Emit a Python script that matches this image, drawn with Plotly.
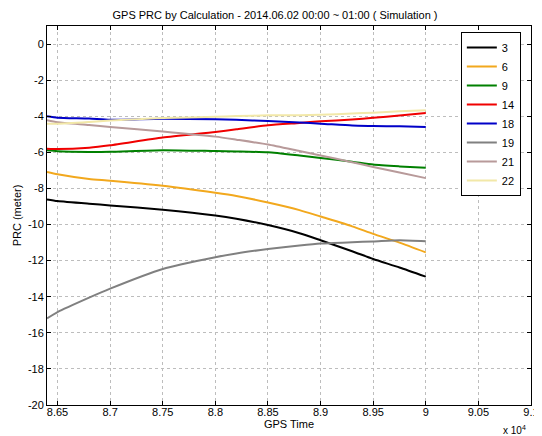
import plotly.graph_objects as go

gps_time = [86400, 86500, 86800, 87000, 87500, 88000, 88200, 88500,
            88800, 89000, 89300, 89500, 89750, 90000]

prn_labels = ["3", "6", "9", "14", "18", "19", "21", "22"]

prc_3 = [-8.61, -8.70, -8.85, -8.94, -9.18, -9.50, -9.68, -10.03,
         -10.48, -10.87, -11.48, -11.91, -12.38, -12.89]
prc_6 = [-7.09, -7.22, -7.48, -7.57, -7.85, -8.24, -8.42, -8.78,
         -9.20, -9.56, -10.10, -10.52, -11.00, -11.54]
prc_9 = [-5.89, -5.94, -5.98, -5.97, -5.88, -5.93, -5.95, -6.00,
         -6.18, -6.31, -6.52, -6.68, -6.78, -6.86]
prc_14 = [-5.80, -5.82, -5.74, -5.61, -5.18, -4.87, -4.72, -4.50,
          -4.37, -4.28, -4.18, -4.09, -3.96, -3.82]
prc_18 = [-4.00, -4.08, -4.13, -4.20, -4.14, -4.17, -4.20, -4.27,
          -4.35, -4.41, -4.52, -4.54, -4.56, -4.59]
prc_19 = [-15.20, -14.85, -14.05, -13.55, -12.46, -11.81, -11.60, -11.36,
          -11.16, -11.05, -10.98, -10.94, -10.87, -10.93]
prc_21 = [-4.22, -4.33, -4.48, -4.59, -4.84, -5.13, -5.30, -5.57,
          -5.93, -6.17, -6.55, -6.81, -7.12, -7.43]
prc_22 = [-4.41, -4.42, -4.32, -4.24, -4.10, -4.03, -3.99, -3.95,
          -3.94, -3.92, -3.85, -3.80, -3.73, -3.67]

series_values = [prc_3, prc_6, prc_9, prc_14, prc_18, prc_19, prc_21, prc_22]
series_colors = ["#000000", "#F2A81D", "#008000", "#F00000", "#0000C8",
                 "#808080", "#B89A9A", "#F2E8A8"]

x_tick_vals = [86500, 87000, 87500, 88000, 88500, 89000, 89500, 90000, 90500, 91000]
x_tick_text = ["8.65", "8.7", "8.75", "8.8", "8.85", "8.9", "8.95", "9", "9.05", "9.1"]
y_tick_vals = [0, -2, -4, -6, -8, -10, -12, -14, -16, -18, -20]
y_tick_text = ["0", "-2", "-4", "-6", "-8", "-10", "-12", "-14", "-16", "-18", "-20"]

font_family = "Liberation Sans, Arial, sans-serif"

fig = go.Figure()
for name, vals, col in zip(prn_labels, series_values, series_colors):
    fig.add_trace(go.Scatter(x=gps_time, y=vals, mode="lines", name=name,
                             line=dict(color=col, width=2, shape="spline", smoothing=0.6)))

axis_common = dict(
    showline=True, linecolor="#000000", linewidth=1, mirror="ticks",
    ticks="inside", ticklen=4, tickcolor="#000000",
    showgrid=True, gridcolor="#BDBDBD", griddash="dot", gridwidth=1,
    zeroline=False, tickfont=dict(size=11, color="#000000"),
    automargin=False,
)

# the page body adds an 8px offset, so the figure is sized to fit the window
fig.update_layout(
    width=534, height=428,
    margin=dict(l=39, r=11, t=18, b=31),
    paper_bgcolor="white", plot_bgcolor="white",
    font=dict(family=font_family, size=11, color="#000000"),
    title=dict(text="GPS PRC by Calculation - 2014.06.02 00:00 ~ 01:00 ( Simulation )",
               x=0.5, xanchor="center", y=0.984, yanchor="middle",
               font=dict(size=11)),
    xaxis=dict(range=[86400, 91000], tickvals=x_tick_vals, ticktext=x_tick_text,
               ticklabelstandoff=-3,
               title=dict(text="GPS Time", standoff=0, font=dict(size=11)),
               **axis_common),
    yaxis=dict(range=[-20, 1], tickvals=y_tick_vals, ticktext=y_tick_text,
               title=dict(text="PRC (meter)", standoff=4, font=dict(size=11)),
               **axis_common),
    legend=dict(x=0.979, y=0.984, xanchor="right", yanchor="top",
                bgcolor="white", bordercolor="#000000", borderwidth=1,
                font=dict(size=11), tracegroupgap=0, itemwidth=30),
    showlegend=True,
)

fig.add_annotation(text="x 10<sup>4</sup>", xref="paper", yref="paper",
                   x=0.994, y=-0.066, xanchor="right", yanchor="middle",
                   showarrow=False, font=dict(size=10))

fig.write_html("out.html")
